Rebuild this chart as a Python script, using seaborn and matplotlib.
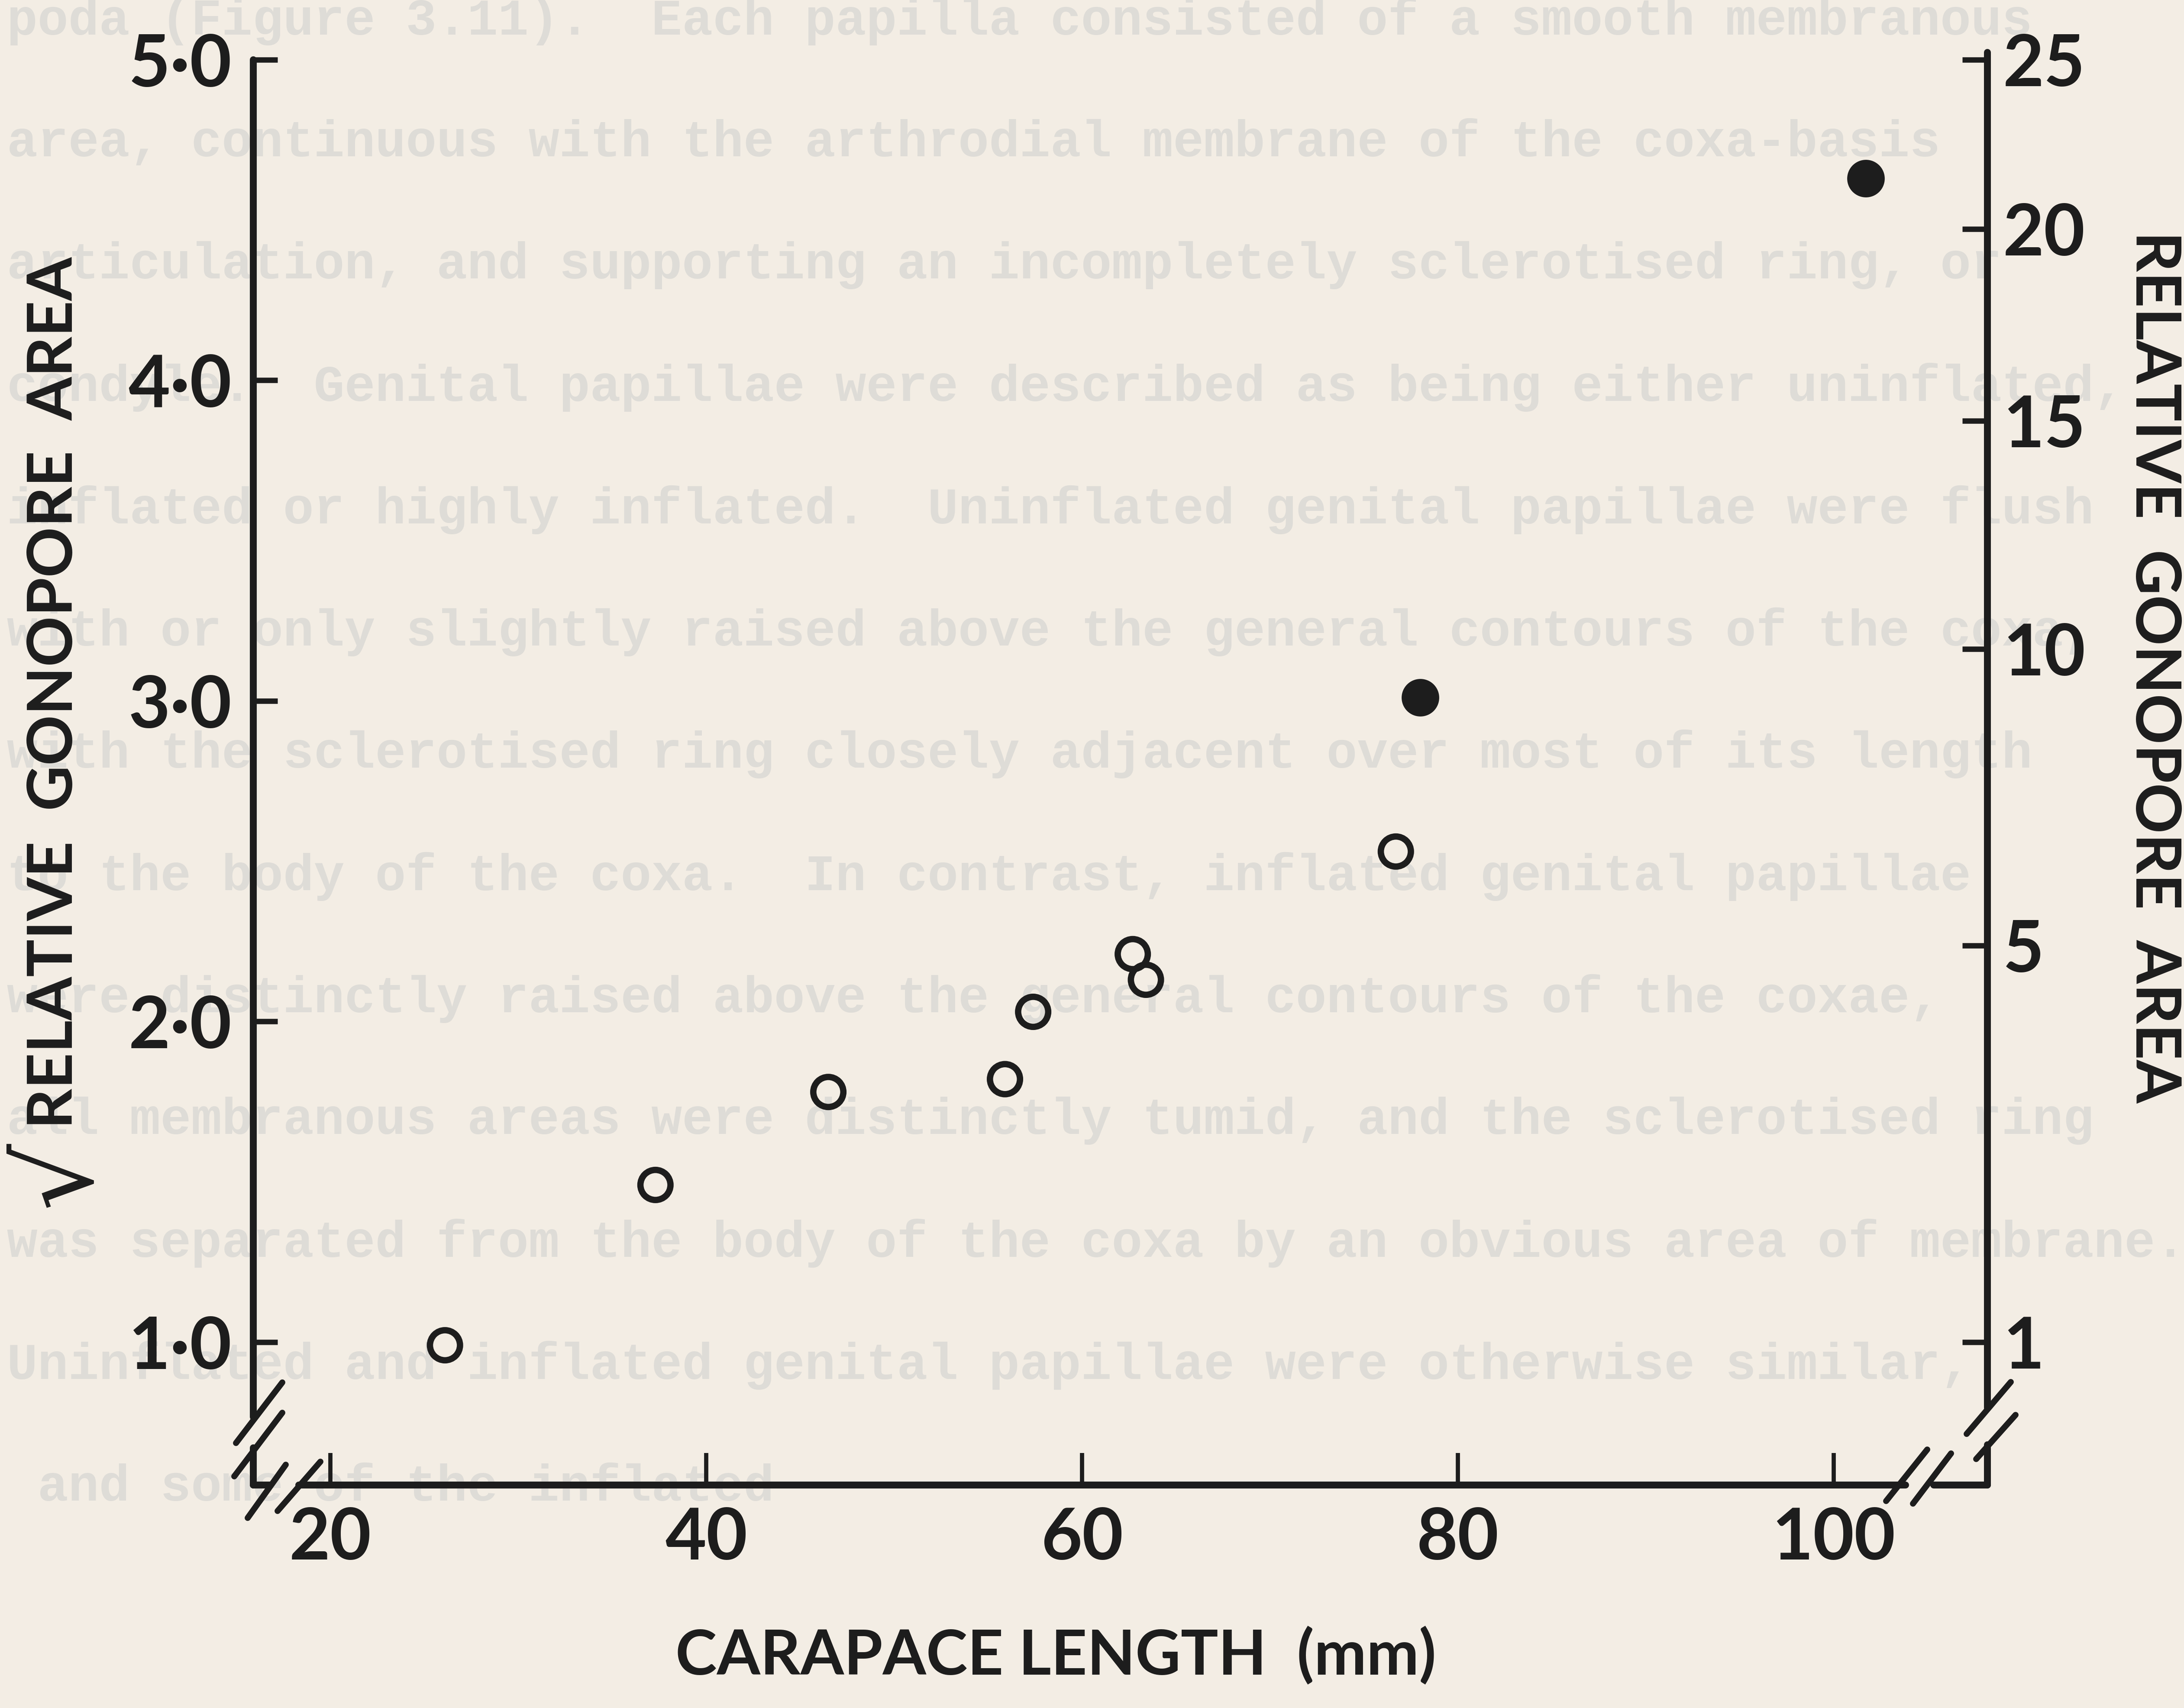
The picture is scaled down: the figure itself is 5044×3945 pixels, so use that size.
import numpy as np
import pandas as pd
import matplotlib
matplotlib.use("Agg")
import matplotlib.pyplot as plt
import seaborn as sns

# ---------------- data ----------------
carapace_uninflated = [26.1, 37.3, 46.5, 55.9, 57.4, 62.7, 63.4, 76.7]
sqrt_area_uninflated = [0.99, 1.49, 1.78, 1.82, 2.03, 2.21, 2.13, 2.53]
carapace_inflated = [78.0, 101.7]
sqrt_area_inflated = [3.01, 4.63]

x_ticks = [20, 40, 60, 80, 100]
x_tick_labels = ["20", "40", "60", "80", "100"]
left_ticks = [1.0, 2.0, 3.0, 4.0, 5.0]
left_tick_labels = ["1·0", "2·0", "3·0", "4·0", "5·0"]
right_ticks = [1, 5, 10, 15, 20, 25]
right_tick_labels = ["1", "5", "10", "15", "20", "25"]

x_label = "CARAPACE LENGTH  (mm)"
left_label = "RELATIVE  GONOPORE  AREA"
right_label = "RELATIVE  GONOPORE  AREA"

bleed_lines = [
    "poda (Figure 3.11).  Each papilla consisted of a smooth membranous",
    "area, continuous with the arthrodial membrane of the coxa-basis",
    "articulation, and supporting an incompletely sclerotised ring, or",
    "condyle.  Genital papillae were described as being either uninflated,",
    "inflated or highly inflated.  Uninflated genital papillae were flush",
    "with or only slightly raised above the general contours of the coxa,",
    "with the sclerotised ring closely adjacent over most of its length",
    "to the body of the coxa.  In contrast, inflated genital papillae",
    "were distinctly raised above the general contours of the coxae,",
    "all membranous areas were distinctly tumid, and the sclerotised ring",
    "was separated from the body of the coxa by an obvious area of membrane.",
    "Uninflated and inflated genital papillae were otherwise similar,",
    " and some of the inflated",
]

df = pd.DataFrame({
    "carapace": carapace_uninflated + carapace_inflated,
    "sqrt_area": sqrt_area_uninflated + sqrt_area_inflated,
    "papilla": ["uninflated"] * len(carapace_uninflated) + ["inflated"] * len(carapace_inflated),
})

# ---------------- style ----------------
BG = "#F3EDE4"
INK = "#1D1D1D"
GHOST = "#DEDCD7"

sns.set_theme(style="white")
plt.rcParams["font.family"] = ["Lato", "DejaVu Sans"]

W, H = 5044, 3945
fig = plt.figure(figsize=(W / 100, H / 100), dpi=100, facecolor=BG)

# faint show-through typescript from the page behind
for i, line in enumerate(bleed_lines):
    fig.text(16 / W, 1 - (48 + i * 282.3) / H, line,
             family=["Liberation Mono", "DejaVu Sans Mono"], fontsize=85,
             fontweight="bold", color=GHOST, ha="left", va="center", zorder=-5)

# axes box in pixels
AX_L, AX_R, AX_T, AX_B = 585, 4590, 137.8, 3430
ax = fig.add_axes([AX_L / W, 1 - AX_B / H, (AX_R - AX_L) / W, (AX_B - AX_T) / H])
ax.set_facecolor("none")
ax.set_xlim(15.9, 108.18)
ax.set_ylim(0.554, 5.0)
for s in ax.spines.values():
    s.set_visible(False)
ax.grid(False)

sub_u = df[df["papilla"] == "uninflated"]
sub_i = df[df["papilla"] == "inflated"]
sns.scatterplot(data=sub_u, x="carapace", y="sqrt_area", ax=ax, marker="o",
                s=2500, facecolor="none", edgecolor=INK, linewidth=10.5,
                legend=False, zorder=5, clip_on=False)
sns.scatterplot(data=sub_i, x="carapace", y="sqrt_area", ax=ax, marker="o",
                s=3900, color=INK, edgecolor=INK, linewidth=0,
                legend=False, zorder=5, clip_on=False)
ax.set_xlabel("")
ax.set_ylabel("")

# ticks
ax.set_xticks(x_ticks)
ax.set_xticklabels(x_tick_labels)
ax.set_yticks(left_ticks)
ax.set_yticklabels(left_tick_labels)
ax.tick_params(axis="x", direction="in", length=53, width=7, color=INK,
               pad=36, labelsize=118, labelcolor=INK, bottom=True, top=False)
ax.tick_params(axis="y", direction="in", length=40, width=9, color=INK,
               pad=36, labelsize=120, labelcolor=INK, left=True, right=False)
for lbl in ax.get_xticklabels() + ax.get_yticklabels():
    lbl.set_fontweight("bold")

ax2 = ax.twinx()
ax2.set_ylim(ax.get_ylim())
for s in ax2.spines.values():
    s.set_visible(False)
ax2.grid(False)
ax2.set_yticks(np.sqrt(np.array(right_ticks, dtype=float)))
ax2.set_yticklabels(right_tick_labels)
ax2.tick_params(axis="y", direction="in", length=42, width=9, color=INK,
                pad=26, labelsize=118, labelcolor=INK, right=True, left=False)
for lbl in ax2.get_yticklabels():
    lbl.set_fontweight("bold")


# hand-drawn axis frame with break marks (pixel -> axes fraction)
def P(xp, yp):
    return ((xp - AX_L) / (AX_R - AX_L), (AX_B - yp) / (AX_B - AX_T))


def seg(p0, p1, lw=11.5):
    (x0, y0), (x1, y1) = P(*p0), P(*p1)
    ax.plot([x0, x1], [y0, y1], transform=ax.transAxes, color=INK, lw=lw,
            solid_capstyle="round", clip_on=False, zorder=4)


# left axis
seg((AX_L, AX_T), (AX_L, 3273))
seg((AX_L, 3344), (AX_L, AX_B))
# bottom axis
seg((AX_L, AX_B), (624, AX_B))
seg((690, AX_B), (4401, AX_B))
seg((4466, AX_B), (AX_R, AX_B))
# right axis
seg((AX_R, AX_B), (AX_R, 3337))
seg((AX_R, 3252), (AX_R, 121))
# break marks
seg((545, 3333), (652, 3193), lw=10)
seg((541, 3410), (652, 3263), lw=10)
seg((572, 3506), (660, 3383), lw=10)
seg((641, 3490), (740, 3376), lw=10)
seg((4356, 3467), (4451, 3348), lw=10)
seg((4418, 3473), (4506, 3357), lw=10)
seg((4542, 3312), (4644, 3192), lw=10)
seg((4564, 3370), (4655, 3268), lw=10)

# axis titles
fig.text(2438 / W, 1 - 3867 / H, x_label, ha="center", va="baseline",
         fontsize=104, fontweight="bold", color=INK)
fig.text(126 / W, 1 - 1600 / H, left_label, rotation=90, ha="center",
         va="center", fontsize=104, fontweight="bold", color=INK)
fig.text(138 / W, 1 - 2712 / H, "√", rotation=90, ha="center", va="center",
         fontsize=175, color=INK, family=["DejaVu Sans"])
fig.text(4974 / W, 1 - 1541 / H, right_label, rotation=-90, ha="center",
         va="center", fontsize=104, fontweight="bold", color=INK)

fig.savefig("out.png", dpi=100, facecolor=BG)
